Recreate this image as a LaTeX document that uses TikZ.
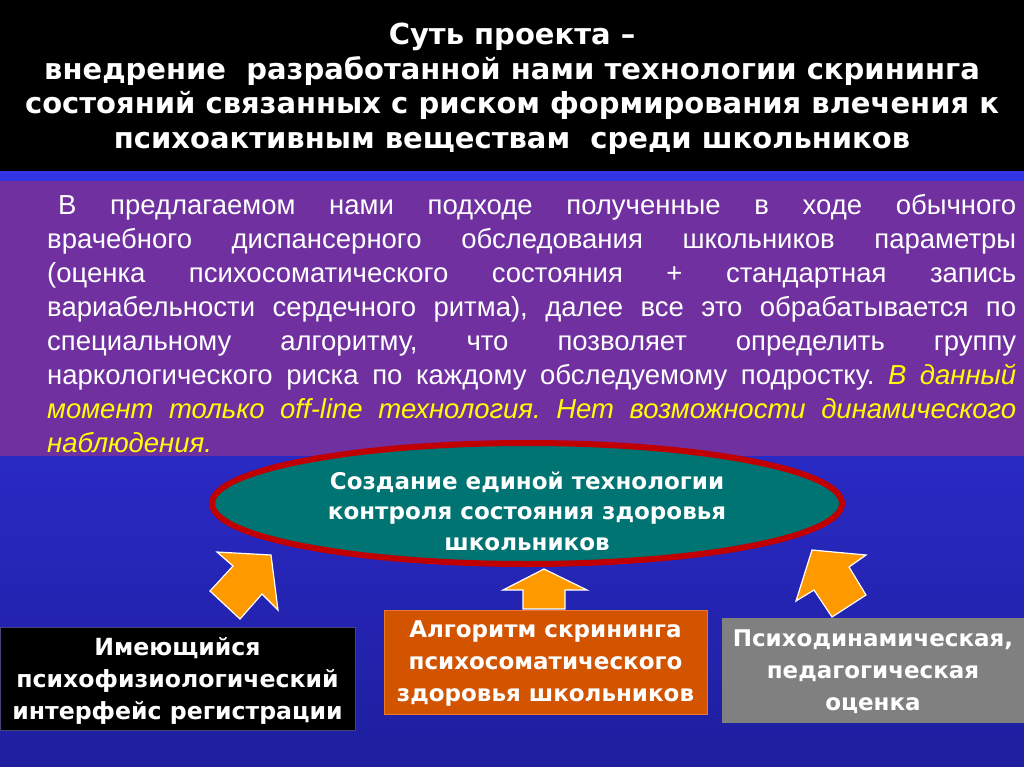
\documentclass[tikz,border=0pt]{standalone}
\usepackage{fontspec}
\setmainfont{Liberation Sans}
\newfontfamily\dvfont{DejaVu Sans}
\usetikzlibrary{shapes.geometric}
\definecolor{bgtop}{RGB}{52,52,232}
\definecolor{bgbot}{RGB}{30,30,158}
\definecolor{panelpurple}{RGB}{112,48,160}
\definecolor{ellred}{RGB}{192,0,0}
\definecolor{ellteal}{RGB}{0,115,115}
\definecolor{arrorange}{RGB}{255,153,0}
\definecolor{boxorange}{RGB}{210,84,0}
\definecolor{boxorangeedge}{RGB}{235,120,40}
\definecolor{boxgray}{RGB}{128,128,128}
\definecolor{boxblackedge}{RGB}{70,70,120}
\definecolor{hiyellow}{RGB}{255,255,0}
\begin{document}
\begin{tikzpicture}[x=1pt,y=-1pt,
  titletext/.style={text=white,align=center,inner sep=0pt,font=\dvfont\bfseries\fontsize{29}{34.5}\selectfont},
  bodytext/.style={text=white,align=justify,inner sep=0pt,text width=969pt,font=\fontsize{27.5}{34}\selectfont},
  boxtext/.style={text=white,align=center,inner sep=0pt,font=\dvfont\bfseries\fontsize{23}{32}\selectfont},
  infobox/.style={rectangle,anchor=north west,inner sep=0pt,line width=1pt},
  blockarrow/.style={fill=arrorange,draw=white,line width=1.2pt,line join=miter}
]
\useasboundingbox (0,0) rectangle (1024,767);
% background
\shade[top color=bgtop,bottom color=bgbot] (0,171) rectangle (1024,767);
\fill[black] (0,0) rectangle (1024,171);
\fill[panelpurple] (0,181) rectangle (1024,456);

% title
\node[titletext] (title) at (512,89) {Суть проекта –\\внедрение\ \ разработанной нами технологии скрининга\\состояний связанных с риском формирования влечения к\\психоактивным веществам\ \ среди школьников};

% body paragraph
\node[bodytext,anchor=north west] (body) at (47,194) {\frenchspacing\hyphenpenalty=10000\exhyphenpenalty=10000\tolerance=10000\hspace*{11pt}В предлагаемом нами подходе полученные в ходе обычного\linebreak врачебного диспансерного обследования школьников параметры\linebreak (оценка психосоматического состояния + стандартная запись\linebreak вариабельности сердечного ритма), далее все это обрабатывается по\linebreak специальному алгоритму, что позволяет определить группу\linebreak наркологического риска по каждому обследуемому подростку. {\color{hiyellow}\itshape В данный\linebreak момент только off-line технология. Нет возможности динамического\linebreak наблюдения.}};

% goal ellipse
\node[ellipse,draw=ellred,line width=6pt,fill=ellteal,minimum width=630pt,minimum height=121pt,inner sep=0pt] (goal) at (527,503.5) {};
\node[boxtext,font=\dvfont\bfseries\fontsize{23}{30.5}\selectfont] (goaltext) at (527,511) {Создание единой технологии\\контроля состояния здоровья\\школьников};

% block arrows
\filldraw[blockarrow] (271,555) -- (278,610) -- (262,594) -- (240,619) -- (210,591) -- (233,566) -- (217,552) -- cycle;
\filldraw[blockarrow] (544,569) -- (587,590) -- (565,590) -- (565,609) -- (523,609) -- (523,590) -- (503,590) -- cycle;
\filldraw[blockarrow] (812,550) -- (866,555) -- (849,567) -- (866,595) -- (832,617) -- (814,590) -- (796,601) -- cycle;

% boxes
\node[infobox,fill=black,draw=boxblackedge,minimum width=355pt,minimum height=103pt] (interface) at (0,627) {};
\node[boxtext,font=\dvfont\bfseries\fontsize{23.6}{32}\selectfont] (interfacetext) at (177.5,681) {Имеющийся\\психофизиологический\\интерфейс регистрации};

\node[infobox,fill=boxorange,draw=boxorangeedge,minimum width=323pt,minimum height=104pt] (algo) at (384,610) {};
\node[boxtext] (algotext) at (545.5,663.5) {Алгоритм скрининга\\психосоматического\\здоровья школьников};

\node[infobox,fill=boxgray,draw=boxgray,minimum width=302pt,minimum height=104pt] (assess) at (722,618) {};
\node[boxtext] (assesstext) at (873,672) {Психодинамическая,\\педагогическая\\оценка};
\end{tikzpicture}
\end{document}
